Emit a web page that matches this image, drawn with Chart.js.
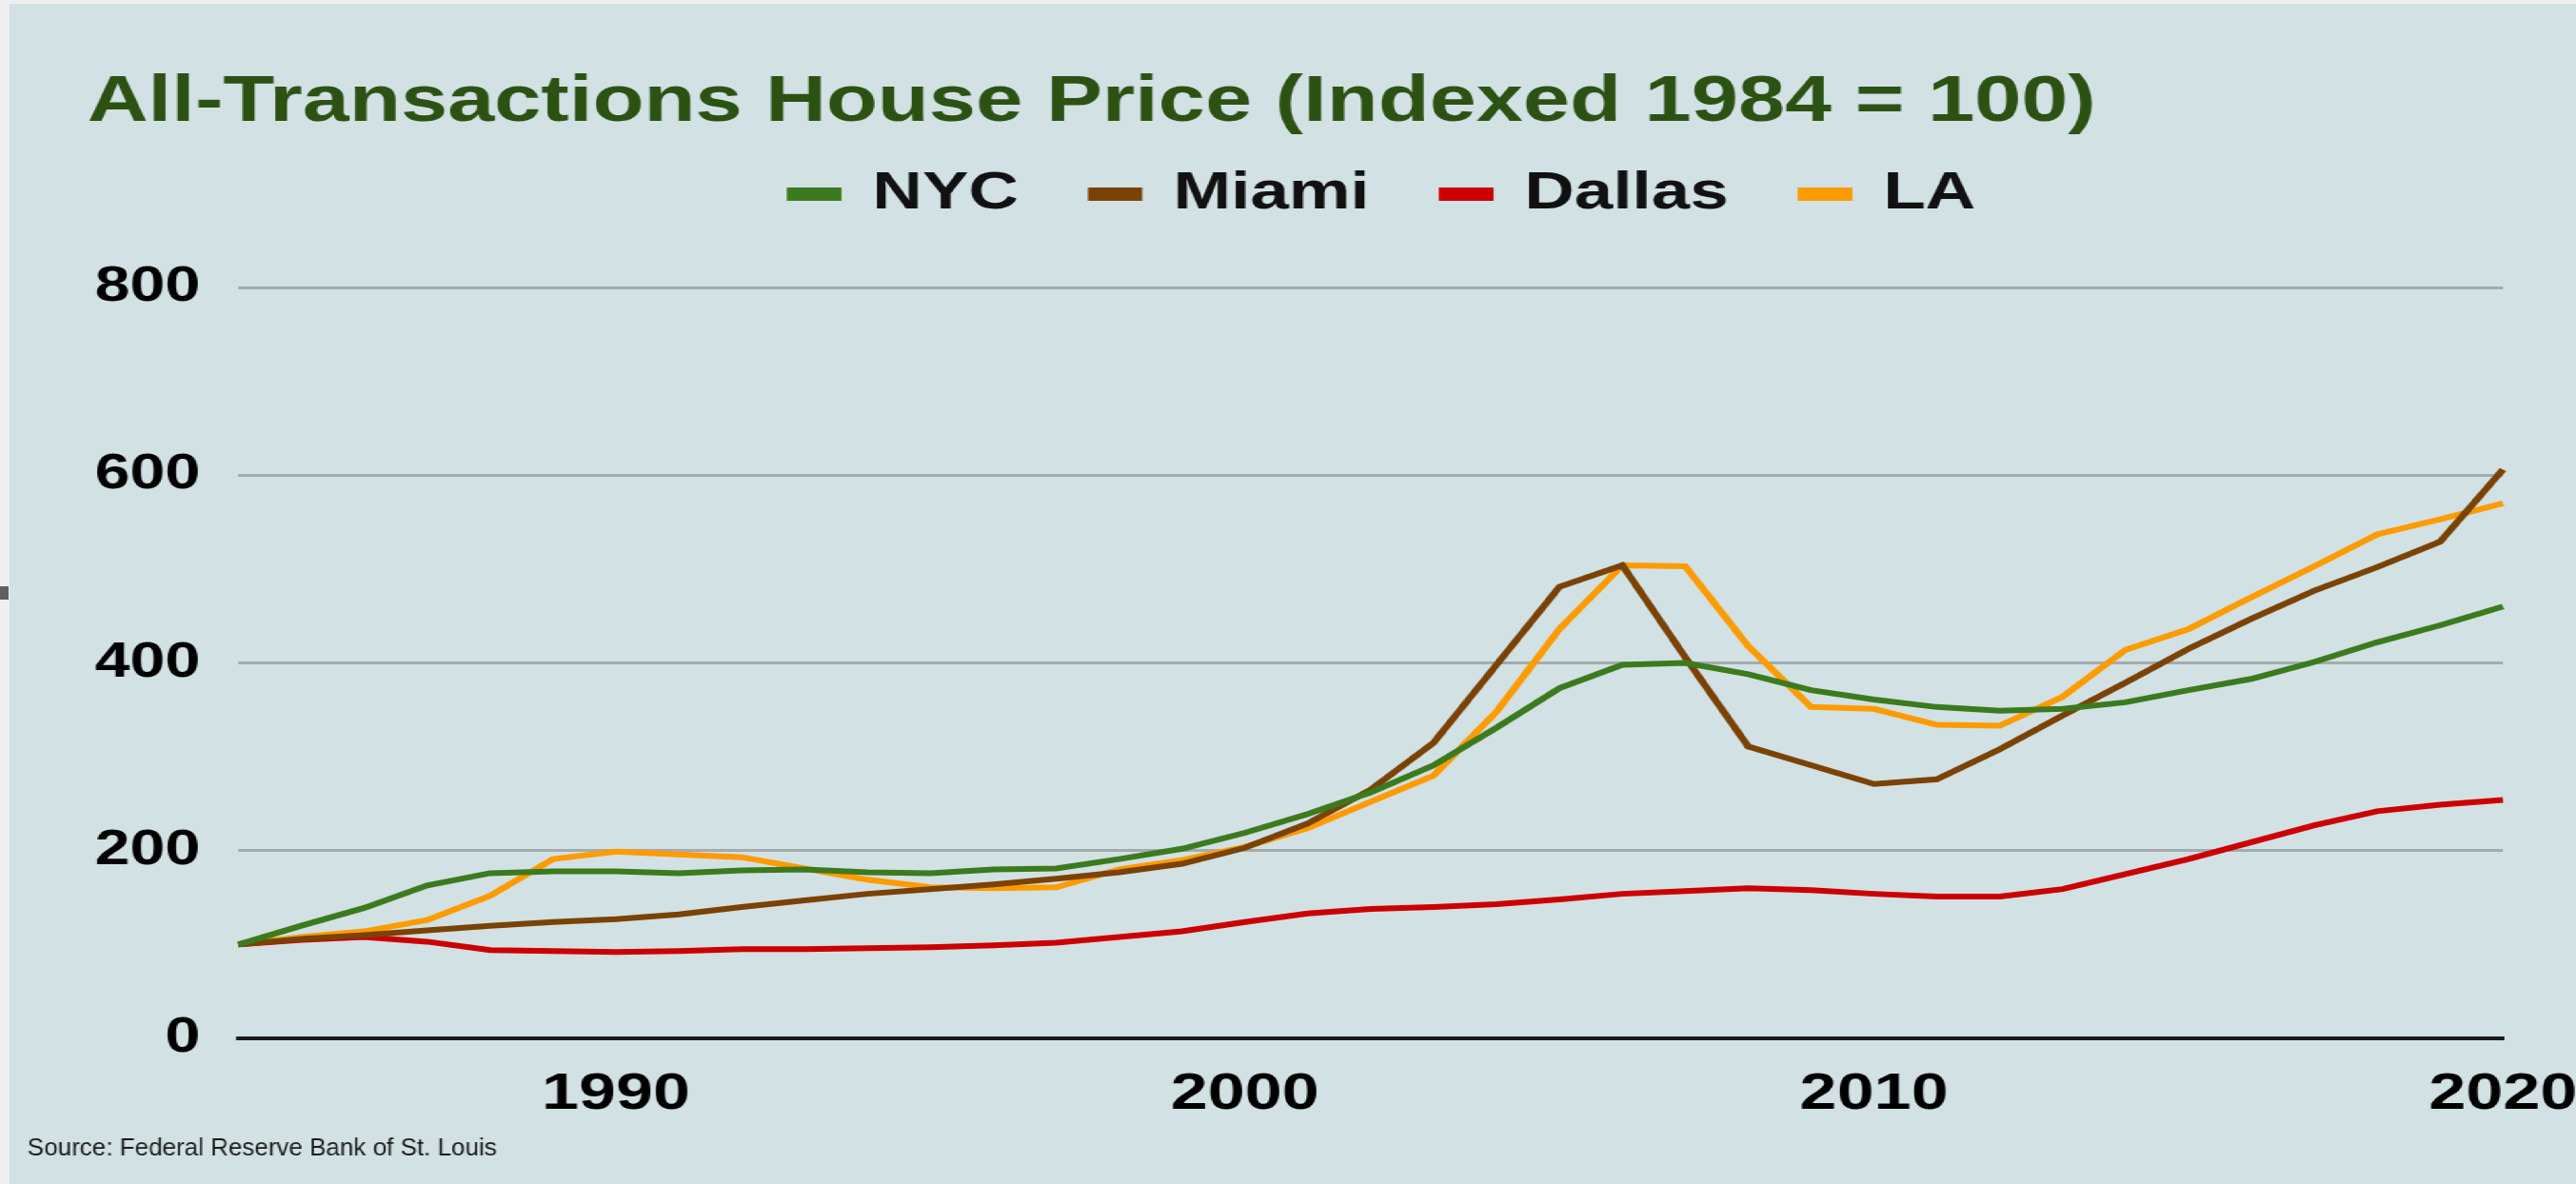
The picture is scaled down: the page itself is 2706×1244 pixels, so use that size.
<!DOCTYPE html>
<html>
<head>
<meta charset="utf-8">
<script src="https://cdn.jsdelivr.net/npm/chart.js@4.4.1/dist/chart.umd.min.js"></script>
<style>
  html, body { margin: 0; padding: 0; background: #efefef; width: 2706px; height: 1244px; overflow: hidden; }
  #wrap {
    position: absolute; left: 10px; top: 4px;
    width: 2074px; height: 1240px;
    background: #d2e1e3;
    transform-origin: 0 0;
    transform: scaleX(1.2999);
  }
  #mark { position: absolute; left: 0; top: 616px; width: 9px; height: 14px; background: #5f5f5f; }
</style>
</head>
<body>
<div id="mark"></div>
<div id="wrap"><canvas id="houseChart"></canvas></div>
<script>
// stretch of the original picture (text looks wide)
const STRETCH = 1.2999;

const years = [1984, 1985, 1986, 1987, 1988, 1989, 1990, 1991, 1992, 1993, 1994, 1995,
  1996, 1997, 1998, 1999, 2000, 2001, 2002, 2003, 2004, 2005, 2006, 2007, 2008, 2009,
  2010, 2011, 2012, 2013, 2014, 2015, 2016, 2017, 2018, 2019, 2020];

const nyc = [100, 120, 139, 163, 176, 178, 178, 176, 179, 180, 177, 176,
  180, 181, 191, 202, 219, 239, 262, 291, 331, 373, 398, 400, 388, 371,
  361, 353, 349, 351, 358, 371, 383, 401, 422, 440, 460];

const miami = [100, 106, 110, 115, 120, 124, 127, 132, 140, 147, 154, 159,
  164, 170, 177, 186, 203, 229, 265, 315, 398, 481, 504, 406, 311, 291,
  271, 276, 308, 344, 379, 415, 447, 477, 502, 529, 606];

const dallas = [100, 105, 108, 103, 94, 93, 92, 93, 95, 95, 96, 97,
  99, 102, 108, 114, 124, 133, 138, 140, 143, 148, 154, 157, 160, 158,
  154, 151, 151, 159, 175, 191, 209, 227, 242, 249, 254];

const la = [100, 108, 114, 126, 152, 191, 199, 196, 193, 181, 169, 161,
  160, 161, 180, 190, 204, 224, 252, 280, 348, 436, 504, 503, 418, 353,
  351, 334, 333, 364, 414, 436, 470, 503, 537, 553, 570];

const yTicks = [0, 200, 400, 600, 800];
const sourceText = 'Source: Federal Reserve Bank of St. Louis';

const FONT = '"Liberation Sans", Arial, Helvetica, sans-serif';

function series(label, data, color) {
  return {
    label: label,
    data: data,
    borderColor: color,
    backgroundColor: color,
    borderWidth: 6,
    pointRadius: 0,
    tension: 0,
    fill: false
  };
}

// push the plot down below the legend and nudge the legend a bit right
const layoutTweaks = {
  id: 'layoutTweaks',
  afterInit(chart) {
    const legend = chart.legend;
    const fit = legend.fit;
    legend.fit = function () {
      fit.call(this);
      this.height += 60;
    };
  },
  afterLayout(chart) {
    chart.legend.left += 10;
    chart.legend.right += 10;
  }
};

// source note, drawn without the horizontal stretch
const sourceNote = {
  id: 'sourceNote',
  afterDraw(chart) {
    const ctx = chart.ctx;
    ctx.save();
    ctx.translate(14.6, 1210);
    ctx.scale(1 / STRETCH, 1);
    ctx.font = '26px ' + FONT;
    ctx.fillStyle = '#1a1a1a';
    ctx.textBaseline = 'alphabetic';
    ctx.textAlign = 'left';
    ctx.fillText(sourceText, 0, 0);
    ctx.restore();
  }
};

const ctx = document.getElementById('houseChart').getContext('2d');

new Chart(ctx, {
  type: 'line',
  data: {
    labels: years,
    datasets: [
      series('NYC', nyc, '#3c7a1e'),
      series('Miami', miami, '#7b4205'),
      series('Dallas', dallas, '#cc0000'),
      series('LA', la, '#fd9b00')
    ]
  },
  options: {
    responsive: true,
    maintainAspectRatio: false,
    animation: false,
    layout: { padding: { left: 63, right: 0, top: 0, bottom: 0 } },
    plugins: {
      title: {
        display: true,
        text: 'All-Transactions House Price (Indexed 1984 = 100)',
        align: 'start',
        color: '#2b5213',
        font: { family: FONT, weight: 'bold', size: 68, lineHeight: 1 },
        padding: { top: 70, bottom: -25 }
      },
      legend: {
        display: true,
        position: 'top',
        fullSize: false,
        labels: {
          boxWidth: 38,
          boxHeight: 8,
          padding: 59,
          color: '#111111',
          font: { family: FONT, weight: 'bold', size: 56, lineHeight: 1 }
        }
      },
      tooltip: { enabled: false }
    },
    scales: {
      x: {
        type: 'category',
        offset: false,
        grid: { display: false, drawTicks: false },
        border: { display: true, color: '#1a1a1a', width: 4 },
        ticks: {
          autoSkip: false,
          maxRotation: 0,
          padding: 27,
          color: '#000000',
          font: { family: FONT, weight: 'bold', size: 54 },
          callback: function (value) {
            const y = years[value];
            return y % 10 === 0 ? String(y) : '';
          }
        },
        afterFit(scale) {
          scale.height = 153;
          scale.paddingRight = 59;
        }
      },
      y: {
        min: 0,
        max: 800,
        grid: { color: '#a2acac', lineWidth: 3, drawTicks: false },
        border: { display: false },
        afterBuildTicks(scale) { scale.ticks = yTicks.map(v => ({ value: v })); },
        ticks: {
          padding: 31,
          color: '#000000',
          font: { family: FONT, weight: 'bold', size: 51 }
        },
        afterFit(scale) { scale.width = 122; }
      }
    }
  },
  plugins: [layoutTweaks, sourceNote]
});
</script>
</body>
</html>
